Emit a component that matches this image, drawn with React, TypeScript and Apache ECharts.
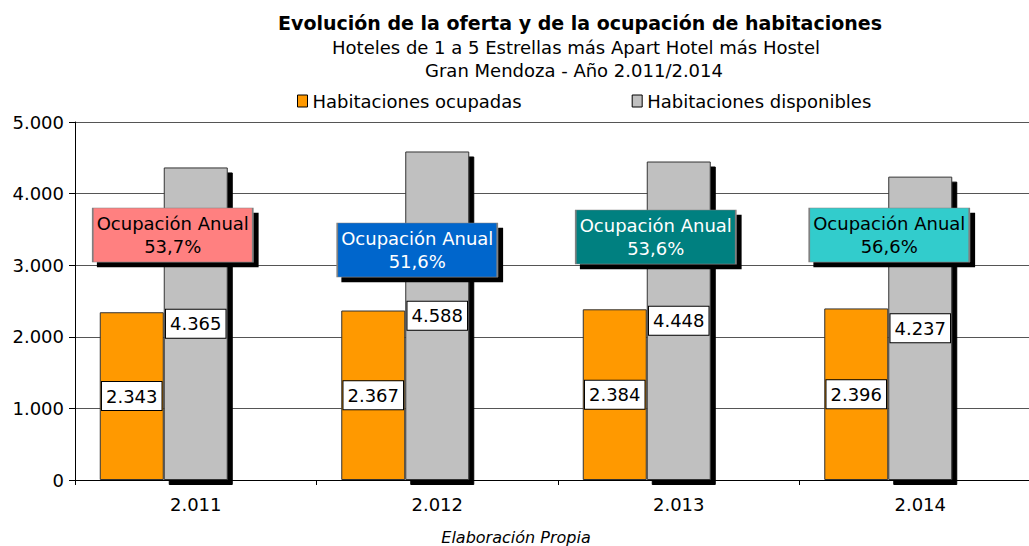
import React, { useEffect, useRef } from "react";
import * as echarts from "echarts";

const years = ["2.011", "2.012", "2.013", "2.014"];
const occupied = [2343, 2367, 2384, 2396];
const available = [4365, 4588, 4448, 4237];
const occupancyRate = ["53,7%", "51,6%", "53,6%", "56,6%"];
const annotationColors = ["#FF8080", "#0066CC", "#008080", "#33CCCC"];
const annotationTextColors = ["#000000", "#FFFFFF", "#FFFFFF", "#000000"];
// annotation placement (value level and horizontal shift in px)
const annotationLevel = [3422, 3212, 3394, 3422];
const annotationShift = [-23, -20, -23, -31];

const FONT = "'DejaVu Sans', Verdana, sans-serif";
const fmt = (n: number) => String(n).replace(/\B(?=(\d{3})+(?!\d))/g, ".");

export default function App() {
  const ref = useRef<HTMLDivElement>(null);
  useEffect(() => {
    if (!ref.current) return;
    const chart = echarts.init(ref.current, null, { renderer: "svg" });
    const valueLabel = {
      show: true,
      position: "inside",
      formatter: (p: any) => fmt(p.value),
      color: "#000",
      fontSize: 18,
      fontFamily: FONT,
      backgroundColor: "#fff",
      borderColor: "#000",
      borderWidth: 1,
      padding: [6, 4, 4, 4],
    };
    chart.setOption({
      animation: false,
      textStyle: { fontFamily: FONT },
      graphic: [
        {
          type: "text",
          x: 580,
          y: 23,
          style: {
            text: "Evolución de la oferta y de la ocupación de habitaciones",
            textAlign: "center",
            textVerticalAlign: "middle",
            fontSize: 19,
            fontWeight: "bold",
            fontFamily: FONT,
            fill: "#000",
          },
        },
        {
          type: "text",
          x: 576,
          y: 47,
          style: {
            text: "Hoteles de 1 a 5 Estrellas más Apart Hotel más Hostel",
            textAlign: "center",
            textVerticalAlign: "middle",
            fontSize: 18,
            fontFamily: FONT,
            fill: "#000",
          },
        },
        {
          type: "text",
          x: 574,
          y: 70,
          style: {
            text: "Gran Mendoza - Año 2.011/2.014",
            textAlign: "center",
            textVerticalAlign: "middle",
            fontSize: 18,
            fontFamily: FONT,
            fill: "#000",
          },
        },
        {
          type: "text",
          x: 516,
          y: 537,
          style: {
            text: "Elaboración Propia",
            textAlign: "center",
            textVerticalAlign: "middle",
            fontSize: 16,
            fontStyle: "italic",
            fontFamily: FONT,
            fill: "#000",
          },
        },
      ],
      legend: {
        data: ["Habitaciones ocupadas", "Habitaciones disponibles"],
        left: 292,
        top: 87,
        icon: "rect",
        itemWidth: 10,
        itemHeight: 12,
        itemGap: 110,
        textStyle: { fontSize: 18, fontFamily: FONT, color: "#000" },
        itemStyle: { borderColor: "#000", borderWidth: 1 },
      },
      grid: { left: 75, right: 0, top: 122, bottom: 66 },
      xAxis: {
        type: "category",
        data: years,
        axisLine: { lineStyle: { color: "#000" } },
        axisTick: { show: true, length: 5, lineStyle: { color: "#000" } },
        axisLabel: { fontSize: 18, color: "#000", margin: 15, fontFamily: FONT },
      },
      yAxis: {
        type: "value",
        min: 0,
        max: 5000,
        interval: 1000,
        axisLine: { show: true, lineStyle: { color: "#000" } },
        axisTick: { show: true, length: 6, lineStyle: { color: "#000" } },
        axisLabel: {
          fontSize: 18,
          color: "#000",
          margin: 11,
          fontFamily: FONT,
          formatter: (v: number) => fmt(v),
        },
        splitLine: { lineStyle: { color: "#555", width: 1 } },
      },
      series: [
        {
          name: "Habitaciones ocupadas",
          type: "bar",
          barWidth: 64,
          barGap: "0%",
          data: occupied,
          itemStyle: { color: "#FF9900", borderColor: "#333", borderWidth: 1 },
          label: valueLabel,
          z: 2,
        },
        {
          name: "Habitaciones disponibles",
          type: "bar",
          barWidth: 64,
          barGap: "0%",
          data: available,
          itemStyle: {
            color: "#C0C0C0",
            borderColor: "#333",
            borderWidth: 1,
            shadowColor: "#000",
            shadowBlur: 0,
            shadowOffsetX: 5,
            shadowOffsetY: 5,
          },
          label: valueLabel,
          z: 2,
        },
        {
          name: "spacer",
          type: "bar",
          barWidth: 64,
          barGap: "0%",
          data: years.map(() => "-"),
          silent: true,
        },
        {
          name: "Ocupación",
          type: "scatter",
          z: 5,
          silent: true,
          data: years.map((y, i) => ({
            value: [y, annotationLevel[i]],
            symbol: "rect",
            symbolSize: [160, 54],
            symbolOffset: [annotationShift[i], 0],
            itemStyle: {
              color: annotationColors[i],
              borderColor: "#808080",
              borderWidth: 1,
              opacity: 1,
              shadowColor: "#000",
              shadowBlur: 0,
              shadowOffsetX: 5,
              shadowOffsetY: 5,
            },
            label: {
              show: true,
              position: "inside",
              formatter: "Ocupación Anual\n" + occupancyRate[i],
              color: annotationTextColors[i],
              fontSize: 18,
              lineHeight: 23,
              fontFamily: FONT,
            },
          })),
        },
      ],
    });
    return () => chart.dispose();
  }, []);
  return (
    <div
      style={{ position: "fixed", left: 0, top: 0, width: 1029, height: 546, overflow: "hidden", background: "#fff" }}
    >
      <div ref={ref} style={{ width: 1041, height: 546 }} />
    </div>
  );
}
